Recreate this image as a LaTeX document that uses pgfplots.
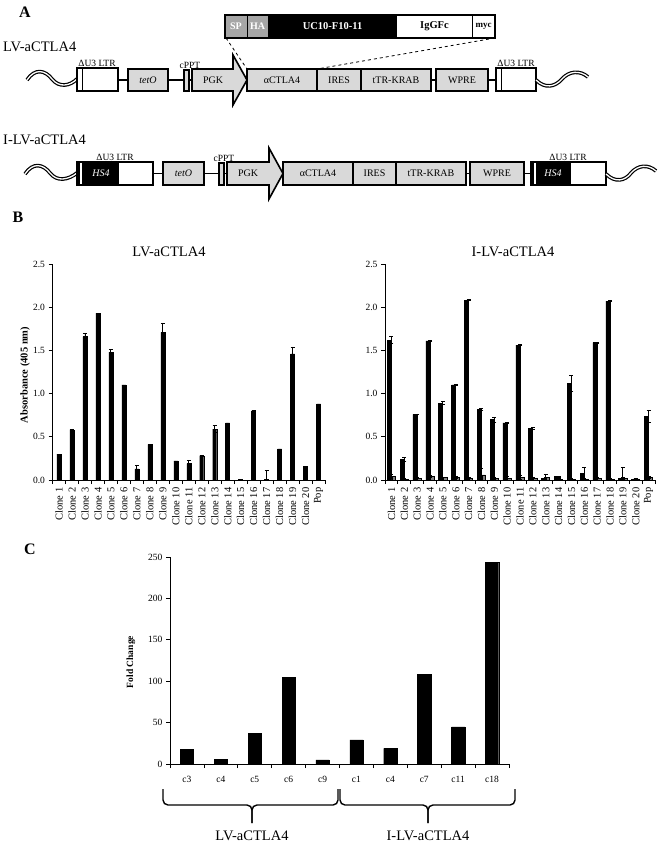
\documentclass[border=0pt]{standalone}
\usepackage{fontspec}
\setmainfont{Liberation Serif}
\usepackage{pgfplots}
\usepackage{pgfplotstable}
\pgfplotsset{compat=1.18}
\definecolor{boxgray}{RGB}{217,217,217}
\definecolor{hdrgray}{RGB}{166,166,166}

\pgfplotstableread{
x y e
1 0.30 0
2 0.58 0
3 1.66 0.04
4 1.93 0
5 1.48 0.03
6 1.10 0
7 0.13 0.04
8 0.41 0
9 1.71 0.10
10 0.22 0
11 0.19 0.04
12 0.28 0
13 0.59 0.04
14 0.66 0
15 0.01 0
16 0.80 0
17 0.01 0.10
18 0.36 0
19 1.46 0.08
20 0.16 0
21 0.88 0
}\leftB

\pgfplotstableread{
x y e y2 e2
1 1.62 0.04 0.04 0.02
2 0.24 0.02 0.01 0.005
3 0.76 0.005 0.02 0.005
4 1.61 0.005 0.04 0.01
5 0.89 0.02 0.03 0.005
6 1.10 0.005 0.03 0.01
7 2.08 0.005 0.02 0.005
8 0.82 0.01 0.06 0.07
9 0.70 0.03 0.02 0.01
10 0.66 0.005 0.02 0.02
11 1.56 0.005 0.03 0.02
12 0.60 0.01 0.02 0.005
13 0.02 0.01 0.03 0.04
14 0.04 0.005 0.01 0.005
15 1.12 0.09 0.01 0.005
16 0.08 0.07 0.01 0.005
17 1.59 0.005 0.02 0.005
18 2.07 0.005 0.01 0.005
19 0.02 0.13 0.02 0.01
20 0.01 0.005 0.01 0.005
21 0.74 0.07 0.03 0.01
}\rightB

\pgfplotstableread{
x y
1 17.5
2 6
3 37
4 105
5 5
6 29
7 19
8 108
9 45
10 243.5
}\foldC

\pgfplotsset{
  excel/.style={
    scale only axis,
    axis x line*=bottom, axis y line*=left,
    axis line style={line width=1pt},
    tick align=outside,
    major tick length=4pt, minor tick length=4pt,
    every tick/.style={black, line width=0.8pt},
    major x tick style={draw=none},
    /pgf/number format/assume math mode=true,
    ticklabel style={font=\fontsize{9.5}{10}\selectfont},
  },
  cloneaxis/.style={
    excel,
    width=#1, height=216pt,
    xmin=0.5, xmax=21.5, ymin=0, ymax=2.5,
    ytick={0,0.5,...,2.5},
    yticklabel style={/pgf/number format/.cd, fixed, fixed zerofill, precision=1},
    xtick={1,...,21},
    minor xtick={0.5,1.5,...,21.5},
    xticklabels={Clone 1,Clone 2,Clone 3,Clone 4,Clone 5,Clone 6,Clone 7,Clone 8,Clone 9,Clone 10,Clone 11,Clone 12,Clone 13,Clone 14,Clone 15,Clone 16,Clone 17,Clone 18,Clone 19,Clone 20,Pop},
    xticklabel style={rotate=90, anchor=east, font=\fontsize{10.5}{11}\selectfont},
  },
  errb/.style={error bars/.cd, y dir=both, y explicit,
    error bar style={line width=0.8pt, black},
    error mark options={rotate=90, mark size=2pt, line width=0.8pt, black}},
}

\tikzset{
  blk/.style={draw=black, line width=1.6pt, fill=boxgray},
  lbl/.style={font=\fontsize{10}{12}\selectfont, inner sep=0pt},
  small/.style={font=\fontsize{9.5}{10}\selectfont, inner sep=0pt},
  wave/.style={draw=black, double=white, double distance=1.3pt, line width=1.2pt},
  conn/.style={line width=1.3pt},
}

\begin{document}
\begin{tikzpicture}[x=1pt,y=1pt]
\path[use as bounding box] (0,0) rectangle (662,-845);

% ================= Panel A =================
\node[font=\fontsize{16}{18}\selectfont\bfseries] at (25,-12) {A};
\node[font=\fontsize{14.5}{16}\selectfont, anchor=west, inner sep=0pt] at (3,-47) {LV-aCTLA4};
\node[font=\fontsize{14.5}{16}\selectfont, anchor=west, inner sep=0pt] at (3,-140) {I-LV-aCTLA4};

% header box
\fill[hdrgray] (225,-15) rectangle (268,-38);
\fill[black] (268,-15) rectangle (397,-38);
\draw[line width=1.2pt] (225,-15) rectangle (495,-38);
\draw[line width=0.8pt] (247,-15) -- (247,-38);
\draw[line width=0.8pt] (472,-15) -- (472,-38);
\node[font=\fontsize{10}{12}\selectfont\bfseries, text=white, inner sep=0pt] at (236,-26.5) {SP};
\node[font=\fontsize{10}{12}\selectfont\bfseries, text=white, inner sep=0pt] at (257.5,-26.5) {HA};
\node[font=\fontsize{10.5}{12}\selectfont\bfseries, text=white, inner sep=0pt] at (332.5,-26.5) {UC10-F10-11};
\node[font=\fontsize{10.5}{12}\selectfont\bfseries, inner sep=0pt] at (434.5,-26.5) {IgGFc};
\node[font=\fontsize{9}{10}\selectfont\bfseries, inner sep=0pt] at (483.5,-26.5) {myc};
\draw[dashed, line width=0.8pt] (226,-38) -- (247,-69);
\draw[dashed, line width=0.8pt] (495,-38) -- (317,-69);

% ---- LV row ----
\draw[wave] (27,-80) .. controls (35,-68) and (45,-70) .. (52,-79) .. controls (59,-88) and (70,-86) .. (77,-79);
\draw[conn] (118,-80) -- (128,-80);
\draw[conn] (168,-80) -- (184,-80);
\draw[conn] (189,-80) -- (192,-80);
\draw[conn] (431,-80) -- (436,-80);
\draw[conn] (488,-80) -- (496,-80);
\draw[line width=1.6pt, fill=white] (77,-68) rectangle (118,-91);
\draw[line width=0.8pt] (82,-68) -- (82,-91);
\node[small] at (97,-63) {ΔU3 LTR};
\draw[blk] (128,-69) rectangle (168,-91);
\node[lbl] at (148,-80) {\itshape tetO};
\draw[blk, line width=1.2pt] (184,-70) rectangle (189,-91);
\node[small] at (190,-65) {cPPT};
\draw[blk] (192,-69) -- (233,-69) -- (233,-55) -- (247,-80) -- (233,-105) -- (233,-91) -- (192,-91) -- cycle;
\node[lbl] at (213,-80) {PGK};
\draw[blk] (247,-69) rectangle (317,-91);
\node[lbl] at (282,-80) {αCTLA4};
\draw[blk] (317,-69) rectangle (361,-91);
\node[lbl] at (339,-80) {IRES};
\draw[blk] (361,-69) rectangle (431,-91);
\node[lbl] at (396,-80) {tTR-KRAB};
\draw[blk] (436,-69) rectangle (488,-91);
\node[lbl] at (462,-80) {WPRE};
\draw[line width=1.6pt, fill=white] (496,-68) rectangle (536,-91);
\draw[line width=0.8pt] (501,-68) -- (501,-91);
\node[small] at (516,-63) {ΔU3 LTR};
\draw[wave] (536,-80) .. controls (545,-89) and (555,-87) .. (562,-79) .. controls (569,-71) and (580,-70) .. (588,-77);

% ---- I-LV row ----
\draw[wave] (25,-174) .. controls (33,-162) and (43,-164) .. (50,-173) .. controls (57,-182) and (68,-180) .. (77,-173);
\draw[conn] (153,-173.5) -- (163,-173.5);
\draw[conn] (204,-173.5) -- (219,-173.5);
\draw[conn] (224,-173.5) -- (227,-173.5);
\draw[conn] (466,-173.5) -- (470,-173.5);
\draw[conn] (524,-173.5) -- (531,-173.5);
\fill[black] (77,-162) rectangle (119,-185);
\fill[white] (79.5,-163.5) rectangle (81.5,-183.5);
\draw[line width=1.6pt] (77,-162) rectangle (153,-185);
\node[lbl, text=white] at (101,-173.5) {\itshape HS4};
\node[small] at (115,-157) {ΔU3 LTR};
\draw[blk] (163,-162) rectangle (204,-185);
\node[lbl] at (183.5,-173.5) {\itshape tetO};
\draw[blk, line width=1.2pt] (219,-163) rectangle (224,-185);
\node[small] at (224,-158) {cPPT};
\draw[blk] (227,-162) -- (269,-162) -- (269,-148) -- (283,-173.5) -- (269,-199) -- (269,-185) -- (227,-185) -- cycle;
\node[lbl] at (248,-173.5) {PGK};
\draw[blk] (283,-162) rectangle (353,-185);
\node[lbl] at (318,-173.5) {αCTLA4};
\draw[blk] (353,-162) rectangle (396,-185);
\node[lbl] at (374.5,-173.5) {IRES};
\draw[blk] (396,-162) rectangle (466,-185);
\node[lbl] at (431,-173.5) {tTR-KRAB};
\draw[blk] (470,-162) rectangle (524,-185);
\node[lbl] at (497,-173.5) {WPRE};
\fill[black] (531,-162) rectangle (571,-185);
\fill[white] (533.5,-163.5) rectangle (535.5,-183.5);
\draw[line width=1.6pt] (531,-162) rectangle (606,-185);
\node[lbl, text=white] at (553,-173.5) {\itshape HS4};
\node[small] at (568,-157) {ΔU3 LTR};
\draw[wave] (606,-174) .. controls (615,-183) and (625,-181) .. (631,-173) .. controls (638,-165) and (648,-164) .. (656,-171);

% ================= Panel B =================
\node[font=\fontsize{16}{18}\selectfont\bfseries] at (18,-217) {B};
\node[font=\fontsize{14.5}{16}\selectfont] at (169,-252) {LV-aCTLA4};
\node[font=\fontsize{14.5}{16}\selectfont] at (513,-252) {I-LV-aCTLA4};
\node[font=\fontsize{10.5}{12}\selectfont\bfseries, rotate=90] at (25,-375) {Absorbance (405 nm)};

\begin{axis}[cloneaxis=272.5pt, at={(52.5pt,-480pt)}, anchor=south west]
\addplot[ybar, bar width=4pt, fill=black, draw=black, errb] table[x=x, y=y, y error=e] {\leftB};
\end{axis}

\begin{axis}[cloneaxis=270pt, at={(385pt,-480pt)}, anchor=south west]
\addplot[ybar, bar width=4pt, bar shift=-2.2pt, fill=black, draw=black, errb] table[x=x, y=y, y error=e] {\rightB};
\addplot[ybar, bar width=3.5pt, bar shift=2.2pt, fill=gray, draw=black, line width=0.4pt, errb] table[x=x, y=y2, y error=e2] {\rightB};
\end{axis}

% ================= Panel C =================
\node[font=\fontsize{16}{18}\selectfont\bfseries] at (30,-549) {C};
\node[font=\fontsize{9.5}{11}\selectfont\bfseries, rotate=90] at (131,-662) {Fold Change};

\begin{axis}[excel, width=339pt, height=207pt, at={(170pt,-764pt)}, anchor=south west,
  xmin=0.5, xmax=10.5, ymin=0, ymax=250,
  ytick={0,50,...,250},
  xtick={1,...,10},
  minor xtick={0.5,1.5,...,10.5},
  xticklabels={c3,c4,c5,c6,c9,c1,c4,c7,c11,c18},
  xticklabel style={font=\fontsize{9.5}{10}\selectfont, yshift=-5pt},
]
\addplot[ybar, bar width=13.3pt, fill=black, draw=black] table[x=x, y=y] {\foldC};
\end{axis}

\draw[line width=1.4pt, rounded corners=5pt] (163,-789) -- (163,-805) -- (252,-805) -- (252,-823);
\draw[line width=1.4pt, rounded corners=5pt] (338,-789) -- (338,-805) -- (252,-805) -- (252,-823);
\draw[line width=1.4pt, rounded corners=5pt] (340,-789) -- (340,-805) -- (428,-805) -- (428,-823);
\draw[line width=1.4pt, rounded corners=5pt] (515,-789) -- (515,-805) -- (428,-805) -- (428,-823);
\node[font=\fontsize{14.5}{16}\selectfont] at (252,-836) {LV-aCTLA4};
\node[font=\fontsize{14.5}{16}\selectfont] at (428,-836) {I-LV-aCTLA4};

\end{tikzpicture}
\end{document}
